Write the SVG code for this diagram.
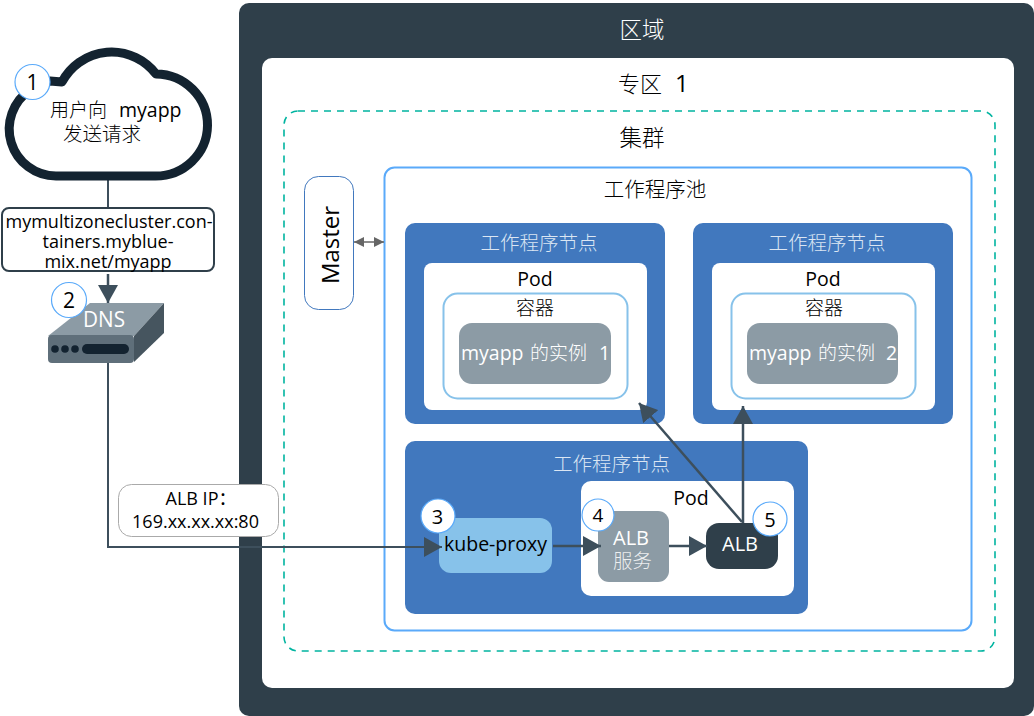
<svg xmlns="http://www.w3.org/2000/svg" width="1034" height="716" viewBox="0 0 1034 716">
<style>
text{font-family:"Open Sans","Noto Sans CJK SC",sans-serif;text-anchor:middle;fill:#000}
.s{text-anchor:start}
.c{font-weight:300}
.w{fill:#fff}.lb{fill:#dbe6f3}
.h{font-size:19.500px;font-weight:300}
.pod{font-size:19.500px}
.ct{font-size:19px;font-weight:300}
.inst{font-size:19.500px;font-weight:500;text-anchor:start}
.worker{fill:#4178be}.inner{fill:#fff}
.badge{fill:#fff;stroke:#5aaafa;stroke-width:1.2}
.gray{fill:#8c9ba5}
.con{fill:none;stroke:#3d4f5c;stroke-width:2.500}
.num{font-size:21px}
</style>
<defs>
<marker id="ah" markerUnits="userSpaceOnUse" markerWidth="18" markerHeight="20" refX="18" refY="10" orient="auto"><path d="M0,0L18,10L0,20Z" fill="#3d4f5c"/></marker>
<marker id="dh" markerUnits="userSpaceOnUse" markerWidth="10" markerHeight="10" refX="10" refY="5" orient="auto-start-reverse"><path d="M0,0L10,5L0,10Z" fill="#666"/></marker>
</defs>
<g id="region"><rect x="239" y="3" width="795" height="713" rx="10" fill="#2f3f4a"/><text class="w c" x="642" y="38" style="font-size:22.500px">区域</text></g>
<g id="zone"><rect x="262" y="58" width="752" height="630" rx="10" fill="#fff"/><text x="618" y="92" class="s"><tspan class="c" font-size="22">专区</tspan><tspan x="675" font-size="24" font-weight="500">1</tspan></text></g>
<g id="cluster"><rect x="284" y="111" width="711" height="540" rx="14" fill="none" stroke="#00b4a0" stroke-width="1.600" stroke-dasharray="7 6"/><text x="642" y="146" class="c" style="font-size:22.500px">集群</text></g>
<g id="pool"><rect x="384.500" y="167.500" width="587" height="463" rx="10" fill="#fff" stroke="#5aaafa" stroke-width="2"/><text x="655" y="197" class="c" style="font-size:20.500px">工作程序池</text></g>
<g id="master"><rect x="304.500" y="176.500" width="49" height="133" rx="14" fill="#fff" stroke="#4178be" stroke-width="1"/><text transform="translate(339,245) rotate(-90)" style="font-size:24px">Master</text></g>
<g id="worker1"><rect class="worker" x="405" y="223" width="260" height="201" rx="10"/><text class="lb h" x="539" y="250">工作程序节点</text>
<rect class="inner" x="424" y="263" width="223" height="147" rx="8"/><text class="pod" x="535" y="286">Pod</text>
<rect x="443.500" y="293.500" width="184" height="105" rx="14" fill="#fff" stroke="#87c2ea" stroke-width="2"/><text class="ct" x="535" y="315">容器</text>
<rect class="gray" x="459" y="323" width="152" height="61" rx="13"/><text class="w inst" x="461" y="360">myapp<tspan x="530" class="c" font-size="19">的实例</tspan><tspan x="599">1</tspan></text></g>
<g id="worker2"><rect class="worker" x="693" y="223" width="260" height="201" rx="10"/><text class="lb h" x="827" y="250">工作程序节点</text>
<rect class="inner" x="712" y="263" width="223" height="147" rx="8"/><text class="pod" x="823" y="286">Pod</text>
<rect x="731.500" y="293.500" width="184" height="105" rx="14" fill="#fff" stroke="#87c2ea" stroke-width="2"/><text class="ct" x="824" y="315">容器</text>
<rect class="gray" x="747" y="323" width="151" height="61" rx="13"/><text class="w inst" x="749" y="360">myapp<tspan x="818" class="c" font-size="19">的实例</tspan><tspan x="886">2</tspan></text></g>
<g id="worker3"><rect class="worker" x="405" y="441" width="403" height="173" rx="10"/><text class="lb h" x="611.500" y="471">工作程序节点</text>
<rect class="inner" x="581" y="481" width="213" height="115" rx="10"/><text class="pod" x="691" y="505">Pod</text></g>
<g id="kube-proxy"><rect x="439" y="518" width="113" height="55" rx="12" fill="#87c2ea"/><text x="495.500" y="551" style="font-size:19.500px;font-weight:500">kube-proxy</text></g>
<g id="alb-service"><rect class="gray" x="598" y="511" width="71" height="71" rx="11"/><text class="w"><tspan x="631" y="545" font-size="20">ALB</tspan><tspan class="c" x="632.500" y="568" font-size="19.500" fill-opacity=".85">服务</tspan></text></g>
<g id="alb"><rect x="706" y="523" width="72" height="46" rx="13" fill="#2f3f4a"/><text class="w" x="740" y="551" style="font-size:20px">ALB</text></g>
<g id="connectors">
<path d="M108,180V209" fill="none" stroke="#3d4f5c" stroke-width="2"/>
<path d="M108,274V303" class="con" marker-end="url(#ah)"/>
<path d="M108,360V547H442" fill="none" stroke="#3d4f5c" stroke-width="2" marker-end="url(#ah)"/>
<path d="M553,546H601" class="con" marker-end="url(#ah)"/>
<path d="M669,546H707" class="con" marker-end="url(#ah)"/>
<path d="M743,523V406" class="con" marker-end="url(#ah)"/>
<path d="M742,522L639,403" class="con" marker-end="url(#ah)"/>
<path d="M354,242H384" fill="none" stroke="#666" stroke-width="1.500" marker-start="url(#dh)" marker-end="url(#dh)"/>
</g>
<g id="cloud"><path d="M62,82A56,56 0 0 1 156,74A52,51 0 0 1 155,176H56A47,47 0 0 1 30,90L50,81Z" fill="#fff" stroke="#132330" stroke-width="9" stroke-linejoin="round"/><text class="s" x="50" y="117"><tspan class="c" font-size="19">用户向</tspan><tspan x="119" font-size="19.500" font-weight="500">myapp</tspan></text><text class="c" x="102" y="141" style="font-size:19.500px">发送请求</text></g>
<g id="url"><rect x="2" y="208" width="212" height="63" rx="7" fill="#fff" stroke="#2f3f4a" stroke-width="2"/><text style="font-size:18px;font-weight:500"><tspan x="109" y="228">mymultizonecluster.con-</tspan><tspan x="108" y="248">tainers.myblue-</tspan><tspan x="108" y="268">mix.net/myapp</tspan></text></g>
<g id="dns"><path d="M48,336L90,303H164L134,336Z" fill="#8c9ba5"/><path d="M134,336L164,303V333L134,362Z" fill="#46555f"/><rect x="48" y="335" width="86" height="28" rx="4" fill="#5f6f7a"/>
<circle cx="55" cy="349" r="3.800" fill="#132330"/><circle cx="65" cy="349" r="3.800" fill="#132330"/><circle cx="75" cy="349" r="3.800" fill="#132330"/><rect x="82" y="344" width="47" height="10" rx="5" fill="#132330"/><text class="w" x="104" y="327" textLength="42" lengthAdjust="spacingAndGlyphs" style="font-size:22.500px">DNS</text></g>
<g id="alb-ip"><rect x="118.500" y="484.500" width="160" height="52" rx="13" fill="#fff" stroke="#aaa" stroke-width="1"/><text style="font-size:18px"><tspan x="201" y="505">ALB IP：</tspan><tspan x="195.500" y="528">169.xx.xx.xx:80</tspan></text></g>
<g id="b1"><circle class="badge" cx="32.500" cy="82" r="17.500"/><text class="num" x="32.500" y="90">1</text></g>
<g id="b2"><circle class="badge" cx="69" cy="300" r="17.500"/><text class="num" x="69" y="308">2</text></g>
<g id="b3"><circle class="badge" cx="438" cy="516" r="17"/><text x="437.500" y="524" style="font-size:20px">3</text></g>
<g id="b4"><circle class="badge" cx="598" cy="515" r="16"/><text x="598" y="521.500" style="font-size:19px">4</text></g>
<g id="b5"><circle class="badge" cx="770" cy="519" r="17"/><text x="770" y="526.500" style="font-size:20px">5</text></g>
</svg>
